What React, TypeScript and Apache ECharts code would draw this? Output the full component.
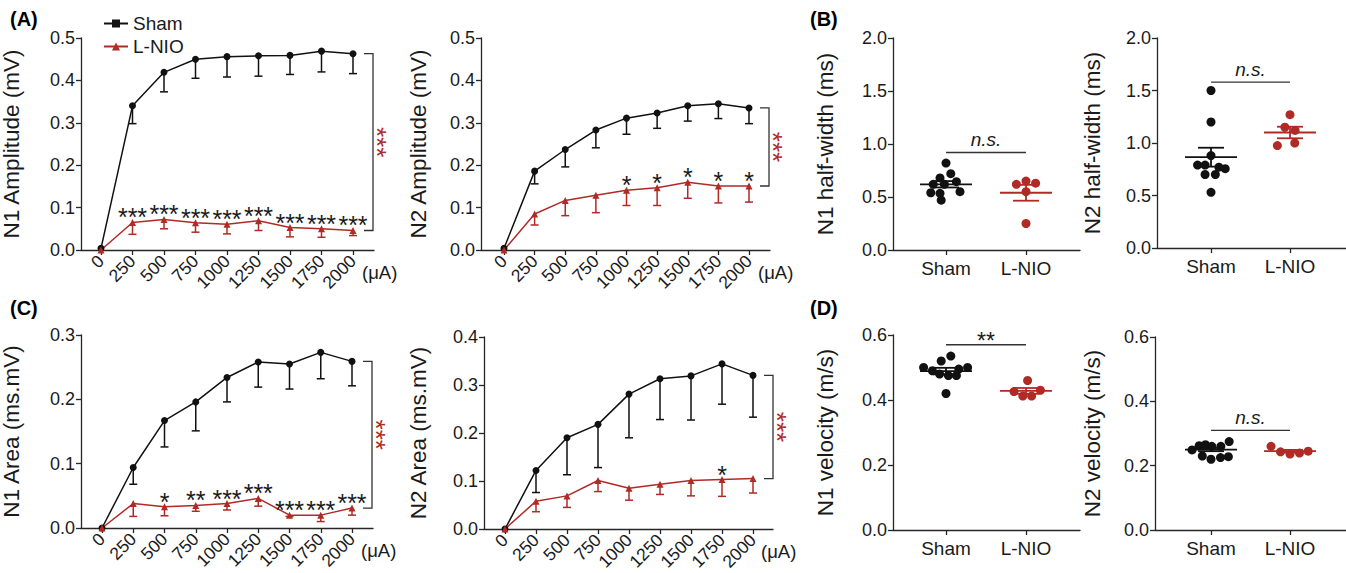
import React, { useEffect, useRef } from "react";
import * as echarts from "echarts";

// ---------- data ----------
const currents = [0, 250, 500, 750, 1000, 1250, 1500, 1750, 2000];
const groups = ["Sham", "L-NIO"];

// (A) N1 amplitude (mV)
const n1AmpSham = [0.004, 0.34, 0.419, 0.45, 0.456, 0.458, 0.459, 0.469, 0.463];
const n1AmpShamLow = [0.004, 0.298, 0.373, 0.405, 0.408, 0.41, 0.414, 0.42, 0.416];
const n1AmpLnio = [0, 0.065, 0.072, 0.064, 0.061, 0.069, 0.053, 0.05, 0.046];
const n1AmpLnioLow = [0, 0.037, 0.05, 0.042, 0.038, 0.046, 0.031, 0.03, 0.034];
const n1AmpStars = ["", "***", "***", "***", "***", "***", "***", "***", "***"];

// (A) N2 amplitude (mV)
const n2AmpSham = [0.004, 0.186, 0.237, 0.283, 0.311, 0.323, 0.34, 0.345, 0.335];
const n2AmpShamLow = [0.004, 0.156, 0.196, 0.241, 0.273, 0.287, 0.304, 0.31, 0.298];
const n2AmpLnio = [0, 0.085, 0.117, 0.129, 0.141, 0.147, 0.16, 0.151, 0.151];
const n2AmpLnioLow = [0, 0.059, 0.081, 0.088, 0.105, 0.105, 0.122, 0.111, 0.113];
const n2AmpStars = ["", "", "", "", "*", "*", "*", "*", "*"];

// (C) N1 area (ms.mV)
const n1AreaSham = [0, 0.094, 0.167, 0.196, 0.234, 0.258, 0.255, 0.273, 0.259];
const n1AreaShamLow = [0, 0.068, 0.126, 0.151, 0.196, 0.219, 0.216, 0.232, 0.221];
const n1AreaLnio = [0, 0.038, 0.033, 0.035, 0.038, 0.046, 0.02, 0.02, 0.031];
const n1AreaLnioLow = [0, 0.018, 0.019, 0.026, 0.028, 0.034, 0.018, 0.01, 0.02];
const n1AreaStars = ["", "", "*", "**", "***", "***", "***", "***", "***"];

// (C) N2 area (ms.mV)
const n2AreaSham = [0, 0.122, 0.19, 0.218, 0.281, 0.313, 0.319, 0.344, 0.32];
const n2AreaShamLow = [0, 0.076, 0.113, 0.128, 0.19, 0.228, 0.227, 0.26, 0.233];
const n2AreaLnio = [0, 0.058, 0.069, 0.101, 0.085, 0.093, 0.101, 0.103, 0.105];
const n2AreaLnioLow = [0, 0.036, 0.045, 0.078, 0.06, 0.072, 0.069, 0.068, 0.075];
const n2AreaStars = ["", "", "", "", "", "", "", "*", ""];

// (B) N1 half-width (ms)
const hwN1Sham = [0.82, 0.72, 0.68, 0.62, 0.62, 0.645, 0.54, 0.535, 0.55, 0.47];
const hwN1ShamJit = [0, 0.06, -0.075, -0.16, -0.02, 0.13, -0.19, -0.075, 0.175, -0.06];
const hwN1Lnio = [0.62, 0.65, 0.63, 0.55, 0.25];
const hwN1LnioJit = [-0.12, 0, 0.12, 0, 0];
const hwN1Mean = [0.62, 0.54];
const hwN1Sem = [0.03, 0.075];

// (B) N2 half-width (ms)
const hwN2Sham = [1.5, 1.2, 0.88, 0.79, 0.79, 0.77, 0.755, 0.7, 0.7, 0.53];
const hwN2ShamJit = [0, 0, 0, -0.17, -0.075, 0.1, 0.18, -0.075, 0.055, 0];
const hwN2Lnio = [1.27, 1.15, 1.12, 0.975, 1.0];
const hwN2LnioJit = [0, -0.065, 0.065, -0.16, 0.06];
const hwN2Mean = [0.865, 1.1];
const hwN2Sem = [0.09, 0.055];

// (D) N1 velocity (m/s)
const velN1Sham = [0.5, 0.49, 0.52, 0.535, 0.5, 0.495, 0.48, 0.475, 0.475, 0.42];
const velN1ShamJit = [-0.28, -0.17, -0.06, 0.06, 0.27, 0.16, -0.08, 0.03, 0.13, 0];
const velN1Lnio = [0.46, 0.426, 0.412, 0.412, 0.43];
const velN1LnioJit = [0.02, -0.15, -0.04, 0.07, 0.18];
const velN1Mean = [0.489, 0.428];
const velN1Sem = [0.01, 0.009];

// (D) N2 velocity (m/s)
const velN2Sham = [0.249, 0.262, 0.265, 0.26, 0.26, 0.275, 0.23, 0.22, 0.225, 0.228];
const velN2ShamJit = [-0.24, -0.15, -0.07, 0.01, 0.125, 0.23, -0.11, 0, 0.12, 0.22];
const velN2Lnio = [0.26, 0.243, 0.236, 0.239, 0.245];
const velN2LnioJit = [-0.24, -0.12, 0, 0.12, 0.23];
const velN2Mean = [0.25, 0.245];
const velN2Sem = [0.005, 0.004];

// significance bars between groups
const sigLevels = [0.92, 1.58, 0.57, 0.31];
const sigTexts = ["n.s.", "n.s.", "**", "n.s."];

// ---------- styling / layout ----------
const RED = "#b02a26";
const BLACK = "#111111";
const AXIS = "#262626";
const TEXT = "#1a1a1a";
const FONT = "Liberation Sans";

const lineLayouts = [
  { left: 81, right: 374, top: 38, bottom: 250, x0: 101, x1: 353, gap: 58 },
  { left: 481, right: 770, top: 38, bottom: 250, x0: 504, x1: 749, gap: 51 },
  { left: 81, right: 373, top: 335, bottom: 528, x0: 102, x1: 352, gap: 58 },
  { left: 484, right: 773, top: 337, bottom: 529, x0: 505, x1: 753, gap: 54 },
];
const dotLayouts = [
  { left: 893, right: 1080, top: 38, bottom: 250, x0: 946, x1: 1026, gap: 56 },
  { left: 1157, right: 1346, top: 38, bottom: 248, x0: 1211, x1: 1290, gap: 53 },
  { left: 893, right: 1080, top: 335, bottom: 530, x0: 946, x1: 1026, gap: 56 },
  { left: 1155, right: 1346, top: 337, bottom: 530, x0: 1211, x1: 1290, gap: 51 },
];

function buildOption() {
  const grid: any[] = [];
  const xAxis: any[] = [];
  const yAxis: any[] = [];
  const series: any[] = [];
  const graphic: any[] = [];

  // legend-only series
  series.push({
    type: "line", name: "Sham", data: [], xAxisIndex: 0, yAxisIndex: 0,
    symbol: "rect", symbolSize: 6, itemStyle: { color: BLACK }, lineStyle: { color: BLACK, width: 1.5 },
  });
  series.push({
    type: "line", name: "L-NIO", data: [], xAxisIndex: 0, yAxisIndex: 0,
    symbol: "triangle", symbolSize: 7, itemStyle: { color: RED }, lineStyle: { color: RED, width: 1.5 },
  });

  const axisCommon = {
    axisLine: { show: true, onZero: false, lineStyle: { color: AXIS, width: 1.3 } },
    axisTick: { show: true, inside: false, length: 5, lineStyle: { color: AXIS, width: 1.3 } },
    splitLine: { show: false },
  };

  const addGrid = (L: any) => {
    grid.push({
      left: L.left, top: L.top, width: L.right - L.left, height: L.bottom - L.top,
      containLabel: false, outerBoundsMode: "none", show: false,
    });
    return grid.length - 1;
  };

  const yAx = (gi: number, max: number, interval: number, name: string, gap: number) => ({
    type: "value", gridIndex: gi, min: 0, max, interval,
    name, nameLocation: "middle", nameGap: gap, nameRotate: 90,
    nameTextStyle: { fontSize: 22.5, color: TEXT, fontFamily: FONT },
    ...axisCommon,
    axisLabel: { fontSize: 18, color: TEXT, fontFamily: FONT, margin: 6, formatter: (v: number) => v.toFixed(1) },
  });

  // ---------- line panels ----------
  const linePanels = [
    { name: "N1 Amplitude (mV)", max: 0.5, iv: 0.1, s: n1AmpSham, sl: n1AmpShamLow, l: n1AmpLnio, ll: n1AmpLnioLow, st: n1AmpStars },
    { name: "N2 Amplitude (mV)", max: 0.5, iv: 0.1, s: n2AmpSham, sl: n2AmpShamLow, l: n2AmpLnio, ll: n2AmpLnioLow, st: n2AmpStars },
    { name: "N1 Area (ms.mV)", max: 0.3, iv: 0.1, s: n1AreaSham, sl: n1AreaShamLow, l: n1AreaLnio, ll: n1AreaLnioLow, st: n1AreaStars },
    { name: "N2 Area (ms.mV)", max: 0.4, iv: 0.1, s: n2AreaSham, sl: n2AreaShamLow, l: n2AreaLnio, ll: n2AreaLnioLow, st: n2AreaStars },
  ];

  linePanels.forEach((P, i) => {
    const L = lineLayouts[i];
    const gi = addGrid(L);
    const last = currents[currents.length - 1];
    const ppu = (L.x1 - L.x0) / last;
    xAxis.push({
      type: "value", gridIndex: gi,
      min: -(L.x0 - L.left) / ppu, max: last + (L.right - L.x1) / ppu,
      ...axisCommon,
      axisTick: { ...axisCommon.axisTick, customValues: currents },
      axisLabel: {
        customValues: currents, rotate: 45, fontSize: 17.5, color: TEXT, fontFamily: FONT, margin: 8,
        formatter: (v: number) => String(v),
      },
    });
    yAxis.push(yAx(gi, P.max, P.iv, P.name, L.gap));

    const errSeries = (mean: number[], low: number[], color: string) => ({
      type: "custom", xAxisIndex: gi, yAxisIndex: gi, z: 2, silent: true,
      data: currents.map((c, k) => [c, mean[k], low[k]]).filter((d) => d[1] !== d[2]),
      renderItem: (params: any, api: any) => {
        const p1 = api.coord([api.value(0), api.value(1)]);
        const p2 = api.coord([api.value(0), api.value(2)]);
        return {
          type: "group",
          children: [
            { type: "line", shape: { x1: p1[0], y1: p1[1], x2: p2[0], y2: p2[1] }, style: { stroke: color, lineWidth: 1.5 } },
            { type: "line", shape: { x1: p2[0] - 4, y1: p2[1], x2: p2[0] + 4, y2: p2[1] }, style: { stroke: color, lineWidth: 1.5 } },
          ],
        };
      },
    });
    series.push(errSeries(P.s, P.sl, BLACK));
    series.push(errSeries(P.l, P.ll, RED));

    series.push({
      type: "line", name: "Sham", xAxisIndex: gi, yAxisIndex: gi, z: 3,
      data: currents.map((c, k) => [c, P.s[k]]),
      symbol: "circle", symbolSize: 7, showSymbol: true,
      itemStyle: { color: BLACK }, lineStyle: { color: BLACK, width: 1.5 },
    });
    series.push({
      type: "line", name: "L-NIO", xAxisIndex: gi, yAxisIndex: gi, z: 3,
      data: currents.map((c, k) => [c, P.l[k]]),
      symbol: "triangle", symbolSize: 7, showSymbol: true,
      itemStyle: { color: RED }, lineStyle: { color: RED, width: 1.5 },
    });

    // stars over L-NIO points
    const st = P.st;
    series.push({
      type: "custom", xAxisIndex: gi, yAxisIndex: gi, z: 4, silent: true,
      data: currents.map((c, k) => [c, P.l[k], k]).filter((d) => st[d[2]] !== ""),
      renderItem: (params: any, api: any) => {
        const p = api.coord([api.value(0), api.value(1)]);
        return {
          type: "text", x: p[0], y: p[1] - 5,
          style: { text: st[api.value(2)], fill: TEXT, fontSize: 25, fontFamily: FONT, align: "center", verticalAlign: "middle" },
        };
      },
    });

    // bracket with red stars
    series.push({
      type: "custom", xAxisIndex: gi, yAxisIndex: gi, z: 4, silent: true,
      data: [[last, P.s[P.s.length - 1], P.l[P.l.length - 1]]],
      renderItem: (params: any, api: any) => {
        const a = api.coord([api.value(0), api.value(1)]);
        const b = api.coord([api.value(0), api.value(2)]);
        const bx = a[0] + 20;
        return {
          type: "group",
          children: [
            {
              type: "polyline",
              shape: { points: [[bx - 9, a[1]], [bx, a[1]], [bx, b[1]], [bx - 9, b[1]]] },
              style: { stroke: "#333", lineWidth: 1.3, fill: null },
            },
            {
              type: "text", x: bx + 4, y: (a[1] + b[1]) / 2, rotation: -Math.PI / 2,
              style: { text: "***", fill: RED, fontSize: 26, fontFamily: FONT, align: "center", verticalAlign: "middle" },
            },
          ],
        };
      },
    });

    graphic.push({
      type: "text", left: L.right - 12, top: L.bottom + 13,
      style: { text: "(\u03bcA)", fill: TEXT, fontSize: 18.5, fontFamily: FONT },
    });
  });

  // ---------- dot panels ----------
  const dotPanels = [
    { name: "N1 half-width (ms)", max: 2.0, iv: 0.5, s: hwN1Sham, sj: hwN1ShamJit, l: hwN1Lnio, lj: hwN1LnioJit, m: hwN1Mean, e: hwN1Sem },
    { name: "N2 half-width (ms)", max: 2.0, iv: 0.5, s: hwN2Sham, sj: hwN2ShamJit, l: hwN2Lnio, lj: hwN2LnioJit, m: hwN2Mean, e: hwN2Sem },
    { name: "N1 velocity (m/s)", max: 0.6, iv: 0.2, s: velN1Sham, sj: velN1ShamJit, l: velN1Lnio, lj: velN1LnioJit, m: velN1Mean, e: velN1Sem },
    { name: "N2 velocity (m/s)", max: 0.6, iv: 0.2, s: velN2Sham, sj: velN2ShamJit, l: velN2Lnio, lj: velN2LnioJit, m: velN2Mean, e: velN2Sem },
  ];

  dotPanels.forEach((P, i) => {
    const L = dotLayouts[i];
    const gi = addGrid(L);
    const ppu = L.x1 - L.x0;
    const pos = [1, 2];
    xAxis.push({
      type: "value", gridIndex: gi,
      min: 1 - (L.x0 - L.left) / ppu, max: 2 + (L.right - L.x1) / ppu,
      ...axisCommon,
      axisTick: { ...axisCommon.axisTick, customValues: pos },
      axisLabel: {
        customValues: pos, fontSize: 19, color: TEXT, fontFamily: FONT, margin: 9,
        formatter: (v: number) => groups[Math.round(v) - 1],
      },
    });
    yAxis.push(yAx(gi, P.max, P.iv, P.name, L.gap));

    const colors = [BLACK, RED];
    series.push({
      type: "scatter", xAxisIndex: gi, yAxisIndex: gi, z: 3, symbolSize: 9,
      data: P.s.map((v, k) => [1 + P.sj[k], v]), itemStyle: { color: BLACK, opacity: 1 },
    });
    series.push({
      type: "scatter", xAxisIndex: gi, yAxisIndex: gi, z: 3, symbolSize: 9,
      data: P.l.map((v, k) => [2 + P.lj[k], v]), itemStyle: { color: RED, opacity: 1 },
    });
    series.push({
      type: "custom", xAxisIndex: gi, yAxisIndex: gi, z: 4, silent: true,
      data: pos.map((x, k) => [x, P.m[k], P.e[k], k]),
      renderItem: (params: any, api: any) => {
        const x = api.value(0), m = api.value(1), e = api.value(2);
        const c = colors[api.value(3)];
        const pm = api.coord([x, m]);
        const pu = api.coord([x, m + e]);
        const pl = api.coord([x, m - e]);
        const st = { stroke: c, lineWidth: 1.8 };
        return {
          type: "group",
          children: [
            { type: "line", shape: { x1: pm[0] - 26, y1: pm[1], x2: pm[0] + 26, y2: pm[1] }, style: st },
            { type: "line", shape: { x1: pu[0], y1: pu[1], x2: pl[0], y2: pl[1] }, style: st },
            { type: "line", shape: { x1: pu[0] - 13, y1: pu[1], x2: pu[0] + 13, y2: pu[1] }, style: st },
            { type: "line", shape: { x1: pl[0] - 13, y1: pl[1], x2: pl[0] + 13, y2: pl[1] }, style: st },
          ],
        };
      },
    });
    const txt = sigTexts[i];
    series.push({
      type: "custom", xAxisIndex: gi, yAxisIndex: gi, z: 4, silent: true,
      data: [[1, 2, sigLevels[i]]],
      renderItem: (params: any, api: any) => {
        const a = api.coord([api.value(0), api.value(2)]);
        const b = api.coord([api.value(1), api.value(2)]);
        const isStar = txt.indexOf("*") >= 0;
        return {
          type: "group",
          children: [
            { type: "line", shape: { x1: a[0], y1: a[1], x2: b[0], y2: b[1] }, style: { stroke: "#333", lineWidth: 1.3 } },
            {
              type: "text", x: (a[0] + b[0]) / 2, y: a[1] - (isStar ? 4 : 13),
              style: {
                text: txt, fill: TEXT, fontSize: isStar ? 23 : 19, fontStyle: isStar ? "normal" : "italic",
                fontFamily: FONT, align: "center", verticalAlign: "middle",
              },
            },
          ],
        };
      },
    });
  });

  // panel letters
  const letters = [
    { t: "(A)", x: 10, y: 9 },
    { t: "(B)", x: 810, y: 9 },
    { t: "(C)", x: 10, y: 298 },
    { t: "(D)", x: 810, y: 298 },
  ];
  letters.forEach((l) =>
    graphic.push({
      type: "text", left: l.x, top: l.y,
      style: { text: l.t, fill: "#000", fontSize: 20, fontWeight: "bold", fontFamily: FONT },
    })
  );

  return {
    animation: false,
    backgroundColor: "#ffffff",
    textStyle: { fontFamily: FONT },
    legend: {
      data: ["Sham", "L-NIO"], orient: "vertical", left: 98, top: 9,
      itemWidth: 24, itemHeight: 10, itemGap: 4, selectedMode: false,
      textStyle: { fontSize: 19, color: TEXT, fontFamily: FONT },
    },
    grid, xAxis, yAxis, series, graphic,
  };
}

export default function App() {
  const ref = useRef<HTMLDivElement>(null);
  useEffect(() => {
    document.body.style.margin = "0";
    if (!ref.current) return;
    const chart = echarts.init(ref.current, undefined, { renderer: "svg" });
    chart.setOption(buildOption() as any);
    return () => chart.dispose();
  }, []);
  return <div ref={ref} style={{ width: 1346, height: 573 }} />;
}
